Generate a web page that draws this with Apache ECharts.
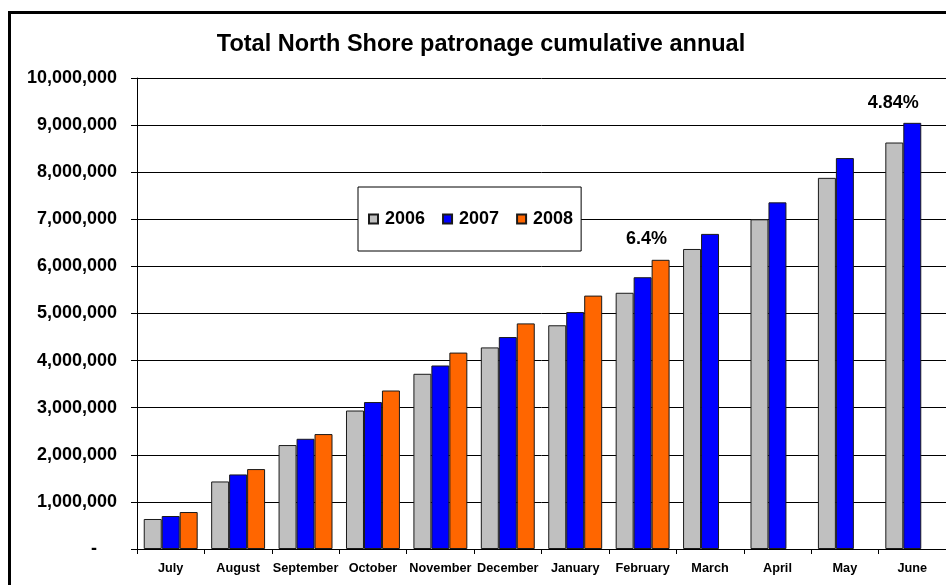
<!DOCTYPE html>
<html>
<head>
<meta charset="utf-8">
<script src="https://cdn.jsdelivr.net/npm/echarts@6/dist/echarts.min.js"></script>
<style>
  html, body { margin: 0; padding: 0; background: #fff; }
  #chart { width: 946px; height: 585px; }
</style>
</head>
<body>
<div id="chart"></div>
<script>
// Cumulative patronage by month of the financial year (July - June)
const months = ['July', 'August', 'September', 'October', 'November', 'December',
                'January', 'February', 'March', 'April', 'May', 'June'];
const years = ['2006', '2007', '2008'];
const patronage2006 = [637000, 1434000, 2207000, 2940000, 3720000, 4280000,
                       4750000, 5440000, 6370000, 7000000, 7880000, 8630000];
const patronage2007 = [700000, 1583000, 2340000, 3120000, 3896000, 4500000,
                       5030000, 5770000, 6690000, 7360000, 8300000, 9048000];
const patronage2008 = [785000, 1697000, 2440000, 3365000, 4170000, 4790000,
                       5380000, 6140000, null, null, null, null];
const yTicks = [0, 1000000, 2000000, 3000000, 4000000, 5000000,
                6000000, 7000000, 8000000, 9000000, 10000000];

const FONT = "'Liberation Sans', Arial, sans-serif";
const growth = (a, b, digits) => ((a / b - 1) * 100).toFixed(digits) + '%';

const febIdx = months.indexOf('February');
const junIdx = months.indexOf('June');

const pctLabel = (text, offset) => ({
  show: true, position: 'top', distance: 5, offset: offset,
  formatter: text, color: '#000', fontFamily: FONT, fontWeight: 'bold', fontSize: 18
});

const data2007 = patronage2007.map((v, i) => i === junIdx
  ? { value: v, label: pctLabel(growth(patronage2007[junIdx], patronage2006[junIdx], 2), [-19, -6]) }
  : v);
const data2008 = patronage2008.map((v, i) => i === febIdx
  ? { value: v, label: pctLabel(growth(patronage2008[febIdx], patronage2007[febIdx], 1), [-14, -7]) }
  : v);

const chart = echarts.init(document.getElementById('chart'), null, { renderer: 'canvas' });

const barBorder = { borderColor: '#1a1a1a', borderWidth: 1 };

chart.setOption({
  animation: false,
  backgroundColor: '#fff',
  title: {
    text: 'Total North Shore patronage cumulative annual',
    left: 481, top: 33, textAlign: 'center', padding: 0,
    textStyle: { fontFamily: FONT, fontWeight: 'bold', fontSize: 23.5, color: '#000' }
  },
  graphic: [{
    type: 'rect', left: 7, top: 10, z: 100, silent: true,
    shape: { width: 1000, height: 1000 },
    style: { fill: 'none', stroke: '#000', lineWidth: 3 }
  }],
  legend: {
    data: years,
    left: 358, top: 187,
    padding: [23, 8, 23, 10],
    itemWidth: 9, itemHeight: 9, itemGap: 17,
    icon: 'rect',
    backgroundColor: '#fff', borderColor: '#000', borderWidth: 1,
    textStyle: { fontFamily: FONT, fontWeight: 'bold', fontSize: 18, color: '#000', padding: [0, 0, 0, 2] }
  },
  grid: { left: 137, right: 0, top: 78, bottom: 36, containLabel: false },
  xAxis: {
    type: 'category', data: months,
    axisLine: { lineStyle: { color: '#000', width: 1 } },
    axisTick: { show: true, length: 5, interval: 0, lineStyle: { color: '#000' } },
    axisLabel: { interval: 0, margin: 13, color: '#000', fontFamily: FONT, fontWeight: 'bold', fontSize: 12.7 }
  },
  yAxis: {
    type: 'value', min: yTicks[0], max: yTicks[yTicks.length - 1],
    interval: yTicks[1] - yTicks[0],
    axisLine: { show: true, lineStyle: { color: '#000', width: 1 } },
    axisTick: { show: true, length: 6, lineStyle: { color: '#000' } },
    splitLine: { show: true, lineStyle: { color: '#000', width: 1 } },
    axisLabel: {
      margin: 20, color: '#000', fontFamily: FONT, fontWeight: 'bold', fontSize: 18,
      formatter: v => v === 0 ? '{z|-}' : v.toLocaleString('en-US'),
      rich: { z: { fontFamily: FONT, fontWeight: 'bold', fontSize: 18, color: '#000', padding: [0, 20, 0, 0] } }
    }
  },
  series: [
    { name: years[0], type: 'bar', data: patronage2006, barGap: '0%', barCategoryGap: '20%',
      itemStyle: Object.assign({ color: '#C0C0C0' }, barBorder) },
    { name: years[1], type: 'bar', data: data2007, barGap: '0%', barCategoryGap: '20%',
      itemStyle: Object.assign({ color: '#0000FF' }, barBorder) },
    { name: years[2], type: 'bar', data: data2008, barGap: '0%', barCategoryGap: '20%',
      itemStyle: Object.assign({ color: '#FF6600' }, barBorder) }
  ]
});
</script>
</body>
</html>
